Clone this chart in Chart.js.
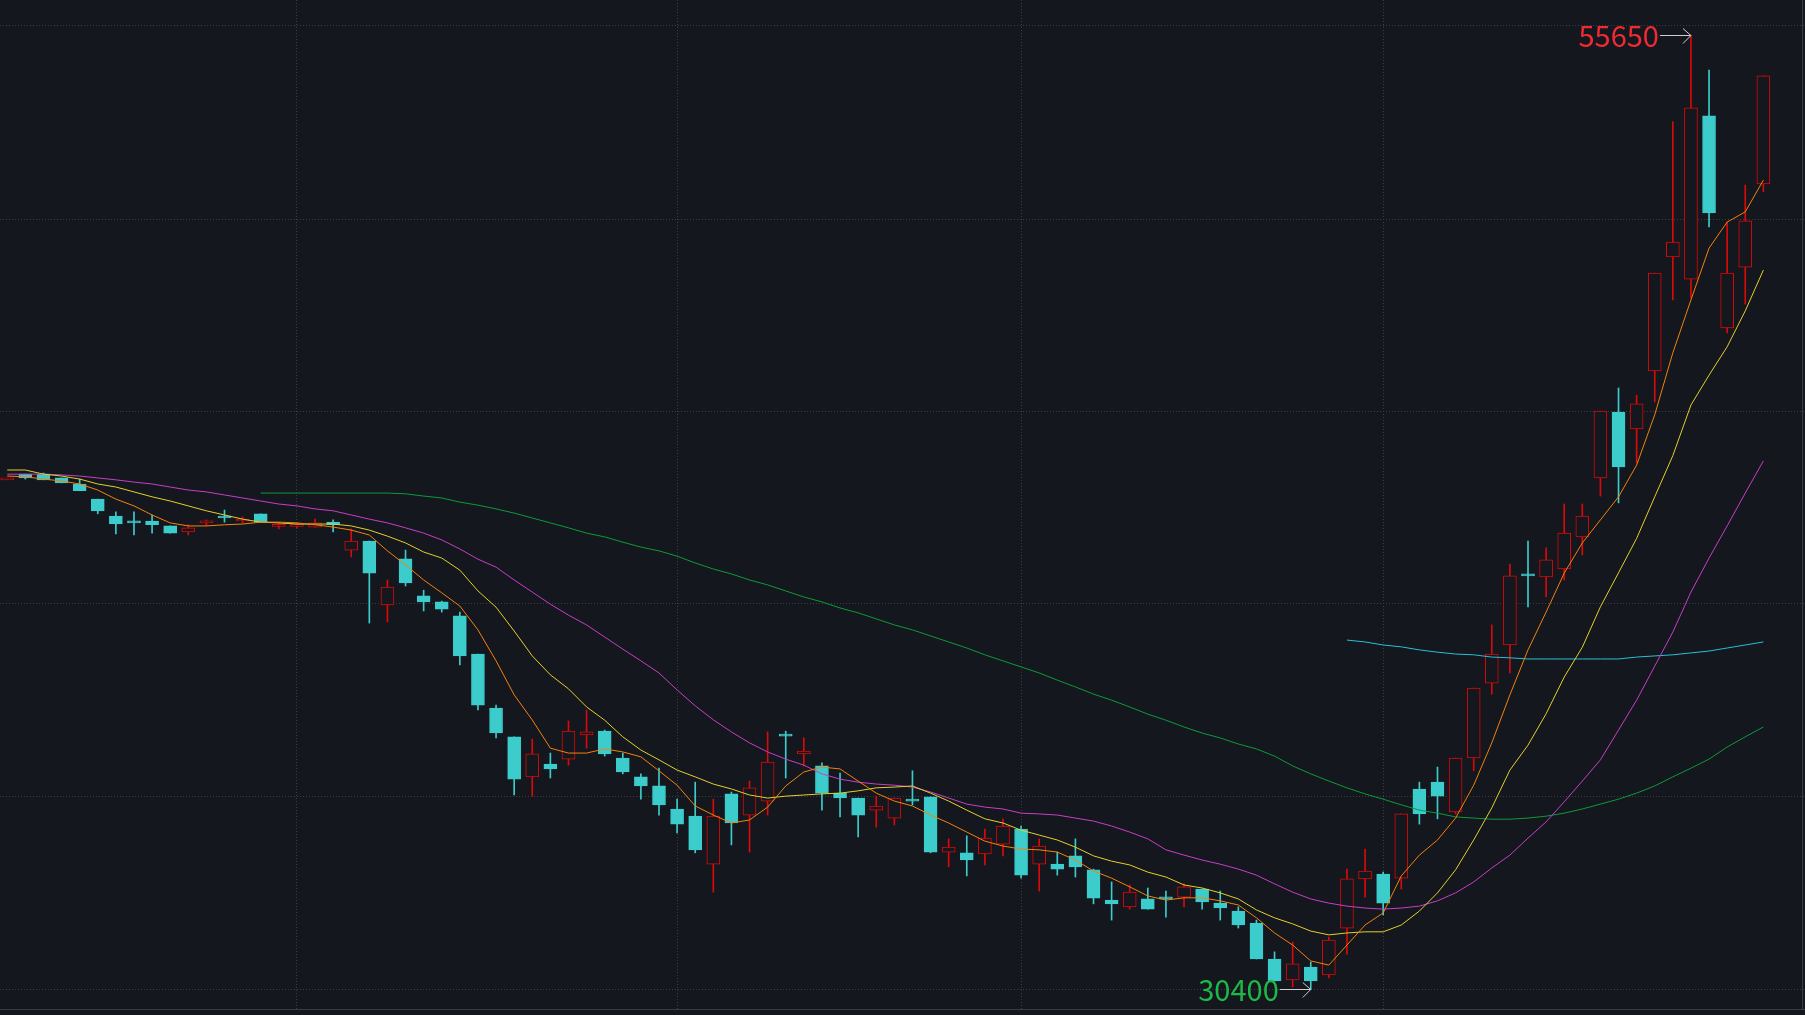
<!DOCTYPE html>
<html>
<head>
<meta charset="utf-8">
<title>日K</title>
<script src="https://cdn.jsdelivr.net/npm/chart.js@4.4.1/dist/chart.umd.min.js"></script>
<style>
  html, body { margin: 0; padding: 0; background: #14171d; overflow: hidden; }
  #wrap { width: 1805px; height: 1015px; }
</style>
</head>
<body>
<div id="wrap"><canvas id="kline" width="1805" height="1015"></canvas></div>
<script>
// ── Data ─────────────────────────────────────────────────
const opens = [
  43880, 44030, 44030, 43930, 43770, 43370, 42920, 42750, 42790, 42660,
  42500, 42740, 42880, 42790, 42980, 42650, 42650, 42630, 42760, 42020,
  42260, 40570, 41790, 40810, 40650, 40280, 39270, 37840, 37080, 36020,
  36360, 36490, 37130, 37230, 36520, 36020, 35780, 35170, 34980, 33710,
  35570, 35010, 35380, 37110, 36630, 36310, 35590, 35460, 35140, 34930,
  35390, 35490, 34030, 34010, 33980, 34240, 34640, 33710, 33710, 33930,
  33560, 32760, 32580, 32790, 32800, 32840, 33050, 32680, 32470, 32150,
  31200, 30650, 30990, 30780, 32020, 33320, 33450, 33340, 35700, 35880,
  35090, 36520, 38500, 39510, 41350, 41310, 41520, 42370, 43930, 45670,
  45230, 46760, 49780, 49190, 53510, 47900, 49510, 51710
];
const highs = [
  43880, 44030, 44060, 43930, 43900, 43370, 43030, 43030, 42950, 42660,
  42690, 42820, 43080, 42900, 42980, 42740, 42740, 42840, 42820, 42580,
  42260, 41230, 42020, 40960, 40670, 40380, 39270, 37920, 37080, 37020,
  36650, 37500, 37790, 37260, 36650, 36100, 36250, 35430, 35880, 35430,
  35620, 35910, 37210, 37230, 37050, 36390, 36120, 35460, 35510, 35460,
  36180, 35490, 34380, 34460, 34640, 34910, 34720, 34380, 34030, 34380,
  33580, 33240, 33160, 33080, 33000, 33190, 33050, 33000, 32580, 32230,
  31390, 31650, 31120, 31780, 33580, 34110, 33500, 35040, 35880, 36280,
  36520, 38370, 40040, 41650, 42260, 42080, 43240, 43240, 45700, 46310,
  46120, 49350, 53350, 55650, 54720, 50700, 51680, 54570
];
const lows = [
  43880, 43900, 43880, 43800, 43590, 42980, 42450, 42420, 42470, 42470,
  42420, 42660, 42760, 42740, 42760, 42580, 42610, 42630, 42500, 41840,
  40090, 40120, 41070, 40410, 40380, 38980, 37790, 37050, 35540, 35510,
  35990, 36330, 36780, 36570, 36100, 35430, 35010, 34540, 34010, 32970,
  34220, 34030, 35010, 35990, 36310, 35140, 34960, 34430, 34690, 34750,
  35280, 34010, 33640, 33400, 33690, 33930, 33340, 33000, 33420, 33370,
  32660, 32230, 32520, 32520, 32310, 32580, 32520, 32230, 32020, 31200,
  30620, 30460, 30400, 30700, 31330, 32840, 32370, 33050, 34770, 34910,
  35040, 36180, 38210, 38770, 40520, 40780, 41230, 41890, 43450, 43270,
  44330, 45940, 48640, 48690, 50570, 47770, 48530, 51500
];
const closes = [
  43880, 43930, 43880, 43800, 43590, 43060, 42710, 42740, 42690, 42470,
  42610, 42790, 42870, 42840, 42760, 42660, 42660, 42740, 42690, 42260,
  41410, 41040, 41150, 40650, 40460, 39220, 37920, 37180, 35960, 36630,
  36230, 37230, 37210, 36630, 36150, 35780, 35280, 34770, 34090, 34980,
  34800, 35730, 36410, 37100, 36700, 35590, 35460, 35010, 35250, 35460,
  35380, 34030, 34160, 33820, 34400, 34720, 33420, 34190, 33580, 33640,
  32810, 32660, 32970, 32520, 32790, 33110, 32710, 32550, 32100, 31200,
  30620, 31070, 30620, 31700, 33320, 33530, 32680, 35040, 35040, 35510,
  36520, 38370, 39270, 41340, 41340, 41760, 42470, 42920, 45700, 44220,
  45890, 49350, 50170, 53720, 50940, 49350, 50730, 54570
];

const ma5 = [
  43980, 43960, 43900, 43850, 43770, 43610, 43370, 43190, 42950, 42740,
  42660, 42660, 42690, 42710, 42760, 42760, 42740, 42690, 42630, 42550,
  42420, 42000, 41630, 41230, 40890, 40540, 39910, 39090, 38190, 37525,
  36780, 36650, 36650, 36760, 36680, 36550, 36180, 35800, 35250, 35010,
  34800, 34880, 35220, 35780, 36150, 36280, 36230, 35910, 35590, 35380,
  35250, 35010, 34800, 34560, 34320, 34190, 34110, 34090, 34030, 33820,
  33530, 33340, 33110, 32870, 32760, 32820, 32820, 32740, 32630, 32290,
  31890, 31570, 31150, 31040, 31570, 32100, 32420, 33400, 33950, 34350,
  34930, 35800, 36920, 38190, 39380, 40380, 41410, 42210, 42820, 43430,
  44270, 45600, 47240, 48640, 50010, 50700, 50970, 51810
];
const ma10 = [
  44140, 44140, 44030, 43980, 43900, 43770, 43690, 43560, 43430, 43320,
  43190, 43060, 42950, 42840, 42760, 42740, 42710, 42710, 42710, 42660,
  42550, 42390, 42210, 41970, 41810, 41490, 40940, 40510, 39880, 39220,
  38720, 38350, 37870, 37520, 37080, 36730, 36470, 36200, 36020, 35830,
  35700, 35540, 35460, 35510, 35540, 35570, 35590, 35650, 35730, 35750,
  35780, 35590, 35380, 35140, 34910, 34800, 34610, 34480, 34350, 34160,
  33930, 33790, 33690, 33500, 33370, 33160, 33080, 32950, 32790, 32500,
  32290, 32130, 31940, 31840, 31890, 31920, 31920, 32100, 32470, 32950,
  33560, 34350, 35200, 36200, 36860, 37690, 38660, 39450, 40520, 41420,
  42330, 43430, 44520, 45860, 46650, 47400, 48350, 49430
];
const ma20 = [
  44030, 44030, 44030, 44010, 43980, 43930, 43880, 43820, 43770, 43690,
  43610, 43560, 43480, 43400, 43320, 43240, 43190, 43110, 43060, 42950,
  42840, 42740, 42610, 42470, 42290, 42050, 41780, 41570, 41230, 40910,
  40590, 40300, 40040, 39720, 39400, 39090, 38770, 38320, 37900, 37530,
  37210, 36920, 36680, 36490, 36330, 36100, 35960, 35880, 35830, 35800,
  35750, 35620, 35460, 35300, 35220, 35170, 35060, 35040, 35010, 34930,
  34850, 34720, 34560, 34380, 34090, 33950, 33820, 33710, 33580, 33420,
  33190, 32970, 32790, 32680, 32600, 32550, 32520, 32550, 32600, 32740,
  32950, 33240, 33610, 33950, 34400, 34830, 35360, 35910, 36470, 37260,
  38050, 38950, 39850, 40910, 41810, 42660, 43530, 44380
];
const ma60 = [
  null, null, null, null, null, null, null, null, null, null,
  null, null, null, null, 43530, 43530, 43530, 43530, 43530, 43530,
  43530, 43530, 43510, 43450, 43400, 43290, 43210, 43110, 43000, 42870,
  42740, 42610, 42470, 42370, 42230, 42100, 42000, 41860, 41680, 41520,
  41390, 41230, 41100, 40940, 40780, 40650, 40490, 40360, 40200, 40040,
  39910, 39750, 39590, 39430, 39250, 39090, 38930, 38770, 38580, 38400,
  38210, 38050, 37870, 37680, 37520, 37340, 37180, 37050, 36890, 36760,
  36570, 36310, 36100, 35910, 35730, 35570, 35430, 35280, 35140, 35060,
  34960, 34930, 34900, 34900, 34930, 34980, 35060, 35170, 35300, 35430,
  35590, 35780, 36020, 36250, 36490, 36810, 37080, 37340
];
const ma120 = [
  ...Array(74).fill(null),
  39640, 39590, 39510, 39460, 39380, 39320, 39270, 39250, 39190, 39170,
  39140, 39140, 39140, 39140, 39140, 39140, 39190, 39220, 39250, 39300,
  39350, 39430, 39510, 39590
];

const gridPrices = [30405, 35490, 40595, 45700, 50780, 55890];
const monthStarts = [16, 37, 56, 76];

// ── Style ────────────────────────────────────────────────
const BG = "#14171d";
const GRID = "#3b3e46";
const UP = "#d90a0a";
const DOWN = "#3ccccc";

const isUp = i => closes[i] >= opens[i];
const candleColor = opens.map((o, i) => (isUp(i) ? UP : DOWN));

// ── Datasets ─────────────────────────────────────────────
function maLine(values, color) {
  return {
    type: "line",
    data: values.map((v, i) => ({ x: i, y: v })),
    borderColor: color,
    borderWidth: 1,
    pointRadius: 0,
    tension: 0,
    spanGaps: false,
    order: 0,
  };
}

const bodies = {
  type: "bar",
  data: opens.map((o, i) => ({ x: i, y: [Math.min(o, closes[i]), Math.max(o, closes[i])] })),
  backgroundColor: opens.map((o, i) => (isUp(i) ? BG : DOWN)),
  borderColor: candleColor,
  borderWidth: 1,
  borderSkipped: false,
  maxBarThickness: 13,
  barPercentage: 1,
  categoryPercentage: 1,
  minBarLength: 2,
  grouped: false,
  order: 1,
};

const wicks = {
  type: "bar",
  data: lows.map((l, i) => ({ x: i, y: [l, highs[i]] })),
  backgroundColor: candleColor,
  borderWidth: 0,
  maxBarThickness: 1,
  barPercentage: 1,
  categoryPercentage: 1,
  grouped: false,
  order: 2,
};

// ── Extremes + frame ─────────────────────────────────────
function drawMark(ctx, tx, ty, text, color) {
  const y = Math.round(ty) + 0.5;
  const tail = tx - 31;
  ctx.save();
  ctx.strokeStyle = "#cfcfcf";
  ctx.lineWidth = 1;
  ctx.beginPath();
  ctx.moveTo(tail, y); ctx.lineTo(tx, y);
  ctx.moveTo(tx - 8, y - 7); ctx.lineTo(tx, y); ctx.lineTo(tx - 8, y + 8);
  ctx.stroke();
  ctx.fillStyle = color;
  ctx.font = '29px "Noto Sans CJK SC", "Noto Sans", sans-serif';
  ctx.textAlign = "right";
  ctx.textBaseline = "alphabetic";
  ctx.fillText(text, tail - 1, y + 11);
  ctx.restore();
}

const extremes = {
  id: "extremes",
  afterDatasetsDraw(chart) {
    const { ctx, chartArea, scales: { x, y } } = chart;
    const hi = highs.indexOf(Math.max(...highs));
    const lo = lows.indexOf(Math.min(...lows));
    drawMark(ctx, x.getPixelForValue(hi), y.getPixelForValue(highs[hi]), String(highs[hi]), "#ee2a32");
    drawMark(ctx, x.getPixelForValue(lo), y.getPixelForValue(lows[lo]), String(lows[lo]), "#1db948");

    ctx.save();
    ctx.strokeStyle = "#3a3d44";
    ctx.lineWidth = 1;
    ctx.beginPath();
    const b = Math.round(chartArea.bottom) + 0.5;
    ctx.moveTo(0, b); ctx.lineTo(chart.width, b);
    ctx.moveTo(chart.width - 2.5, 0); ctx.lineTo(chart.width - 2.5, b);
    ctx.stroke();
    ctx.restore();
  },
};

// ── Chart ────────────────────────────────────────────────
new Chart(document.getElementById("kline"), {
  type: "bar",
  data: {
    datasets: [
      maLine(ma5, "#f5820c"),
      maLine(ma10, "#e4d02c"),
      maLine(ma20, "#c83fc8"),
      maLine(ma60, "#0f9a3a"),
      maLine(ma120, "#2bbfd6"),
      bodies,
      wicks,
    ],
  },
  options: {
    responsive: false,
    animation: false,
    events: [],
    layout: { padding: { left: 0, right: 0, top: 0, bottom: 6 } },
    plugins: { legend: { display: false }, tooltip: { enabled: false } },
    scales: {
      x: {
        type: "linear",
        min: -0.4,
        max: 99.3,
        offset: false,
        ticks: { display: false },
        grid: { color: GRID, drawTicks: false, offset: false },
        border: { display: false, dash: [1, 2] },
        afterBuildTicks: s => { s.ticks = monthStarts.map(v => ({ value: v })); },
      },
      y: {
        min: 29878,
        max: 56576,
        ticks: { display: false },
        grid: { color: GRID, drawTicks: false },
        border: { display: false, dash: [1, 2] },
        afterBuildTicks: s => { s.ticks = gridPrices.map(v => ({ value: v })); },
      },
    },
  },
  plugins: [extremes],
});
</script>
</body>
</html>
